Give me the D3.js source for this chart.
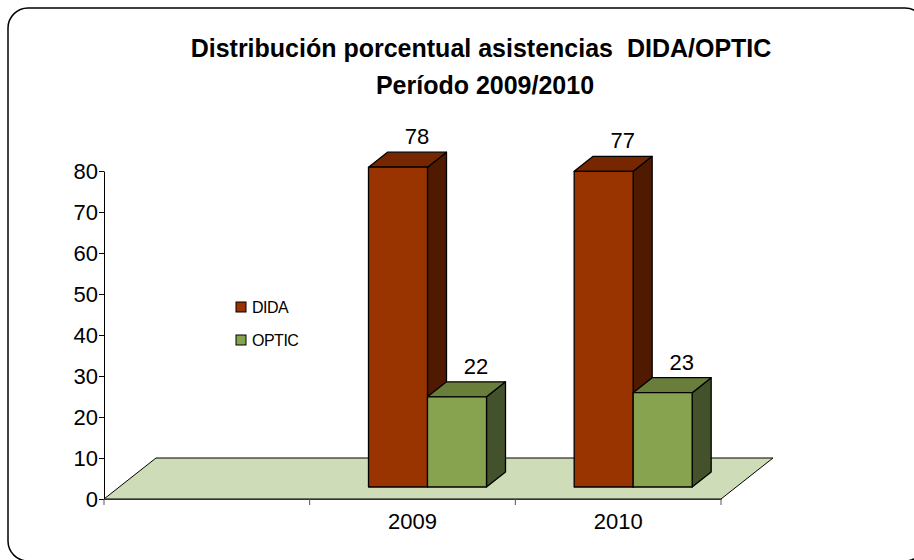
<!DOCTYPE html>
<html>
<head>
<meta charset="utf-8">
<script src="https://cdn.jsdelivr.net/npm/d3@7"></script>
<style>
  body { margin: 0; background: #fff; }
  text { font-family: "Liberation Sans", Arial, sans-serif; fill: #000; }
</style>
</head>
<body>
<svg id="chart" width="914" height="560"></svg>
<script>
// data
var categories = ["", "2009", "2010"];
var series = ["DIDA", "OPTIC"];
var dida = [null, 78, 77];
var optic = [null, 22, 23];
var yTicks = [0, 10, 20, 30, 40, 50, 60, 70, 80];
var titleLines = ["Distribución porcentual asistencias  DIDA/OPTIC", "Período 2009/2010"];

var colors = {
  DIDA:  {front: "#993300", top: "#772700", side: "#4f1a00"},
  OPTIC: {front: "#88a350", top: "#6a7e3c", side: "#43522a"}
};

var svg = d3.select("#chart");

// frame
svg.append("rect")
    .attr("x", 8).attr("y", 8)
    .attr("width", 917).attr("height", 553)
    .attr("rx", 20).attr("ry", 20)
    .attr("fill", "#fff")
    .attr("stroke", "#000")
    .attr("stroke-width", 1.5);

// title (keep the double space)
svg.selectAll("text.title")
    .data(titleLines)
  .enter().append("text")
    .attr("class", "title")
    .attr("x", function(d, i) { return i == 0 ? 481 : 485; })
    .attr("y", function(d, i) { return 57 + i * 37; })
    .attr("text-anchor", "middle")
    .style("font-size", "25px")
    .style("font-weight", "bold")
    .style("white-space", "pre")
    .text(function(d) { return d; });

// scales
var y = d3.scaleLinear().domain([0, 80]).range([499, 171]);
var x = d3.scaleBand().domain(categories).range([104, 721]);
var barW = 59;
var xs = d3.scaleBand().domain(series).range([0, 2 * barW]);

// 3d offsets
var floorDx = 52, floorDy = -41;
var frontDx = 15, frontDy = -12;
var barDx = 19, barDy = -15;

// floor
var fx0 = x.range()[0], fx1 = x.range()[1], fy = y(0);
svg.append("path")
    .attr("d", "M" + fx0 + "," + fy + "L" + (fx0 + floorDx) + "," + (fy + floorDy) +
               "L" + (fx1 + floorDx) + "," + (fy + floorDy) + "L" + fx1 + "," + fy + "Z")
    .attr("fill", "#cfdcb8")
    .attr("stroke", "#000")
    .attr("stroke-width", 1);

// y axis
var yAxis = d3.axisLeft(y).tickValues(yTicks).tickSize(5).tickSizeOuter(0);
var gy = svg.append("g").attr("transform", "translate(104,0)").call(yAxis);
gy.select(".domain").attr("stroke", "#000");
gy.selectAll(".tick line").attr("stroke", "#000");
gy.selectAll(".tick text")
    .attr("x", -6)
    .attr("dy", "0.36em")
    .style("font-size", "22px");

// x axis
var xAxis = d3.axisBottom(x).tickSize(0).tickPadding(14).tickSizeOuter(0);
var gx = svg.append("g").attr("transform", "translate(0," + y(0) + ")").call(xAxis);
gx.select(".domain").attr("stroke", "#333").attr("stroke-width", 1.2);
gx.selectAll(".tick text")
    .style("font-size", "22px");
var bounds = categories.map(function(c) { return x(c); }).concat([x.range()[1]]);
gx.selectAll("line.bound")
    .data(bounds)
  .enter().append("line")
    .attr("class", "bound")
    .attr("x1", function(d) { return d; })
    .attr("x2", function(d) { return d; })
    .attr("y1", 0).attr("y2", 6)
    .attr("stroke", "#555");

// bars
var bars = [];
categories.forEach(function(c, i) {
  if (dida[i] != null) bars.push({cat: c, s: "DIDA", v: dida[i]});
  if (optic[i] != null) bars.push({cat: c, s: "OPTIC", v: optic[i]});
});

function barX(d) {
  return x(d.cat) + x.bandwidth() / 2 - barW + frontDx + xs(d.s);
}

var bar = svg.selectAll("g.bar")
    .data(bars)
  .enter().append("g")
    .attr("class", "bar");

bar.each(function(d) {
  var g = d3.select(this);
  var x0 = barX(d), x1 = x0 + xs.bandwidth();
  var yb = y(0) + frontDy, yt = y(d.v) + frontDy;
  var pts = function(a) { return "M" + a.map(function(p) { return p.join(","); }).join("L") + "Z"; };
  g.append("path")
      .attr("d", pts([[x1, yb], [x1 + barDx, yb + barDy], [x1 + barDx, yt + barDy], [x1, yt]]))
      .attr("fill", colors[d.s].side);
  g.append("path")
      .attr("d", pts([[x0, yt], [x0 + barDx, yt + barDy], [x1 + barDx, yt + barDy], [x1, yt]]))
      .attr("fill", colors[d.s].top);
  g.append("path")
      .attr("d", pts([[x0, yb], [x0, yt], [x1, yt], [x1, yb]]))
      .attr("fill", colors[d.s].front);
  g.selectAll("path")
      .attr("stroke", "#000")
      .attr("stroke-width", 1.3)
      .attr("stroke-linejoin", "round");
  g.append("text")
      .attr("x", (x0 + x1) / 2 + barDx)
      .attr("y", yt + barDy - 8)
      .attr("text-anchor", "middle")
      .style("font-size", "22px")
      .text(d.v);
});

// legend
var legend = svg.selectAll("g.legend")
    .data(series)
  .enter().append("g")
    .attr("class", "legend")
    .attr("transform", function(d, i) { return "translate(236," + (302 + i * 33) + ")"; });

legend.append("rect")
    .attr("width", 10).attr("height", 10)
    .attr("fill", function(d) { return colors[d].front; })
    .attr("stroke", "#000");

legend.append("text")
    .attr("x", 16).attr("y", 11)
    .style("font-size", "16px")
    .style("letter-spacing", "-0.5px")
    .text(function(d) { return d; });
</script>
</body>
</html>
